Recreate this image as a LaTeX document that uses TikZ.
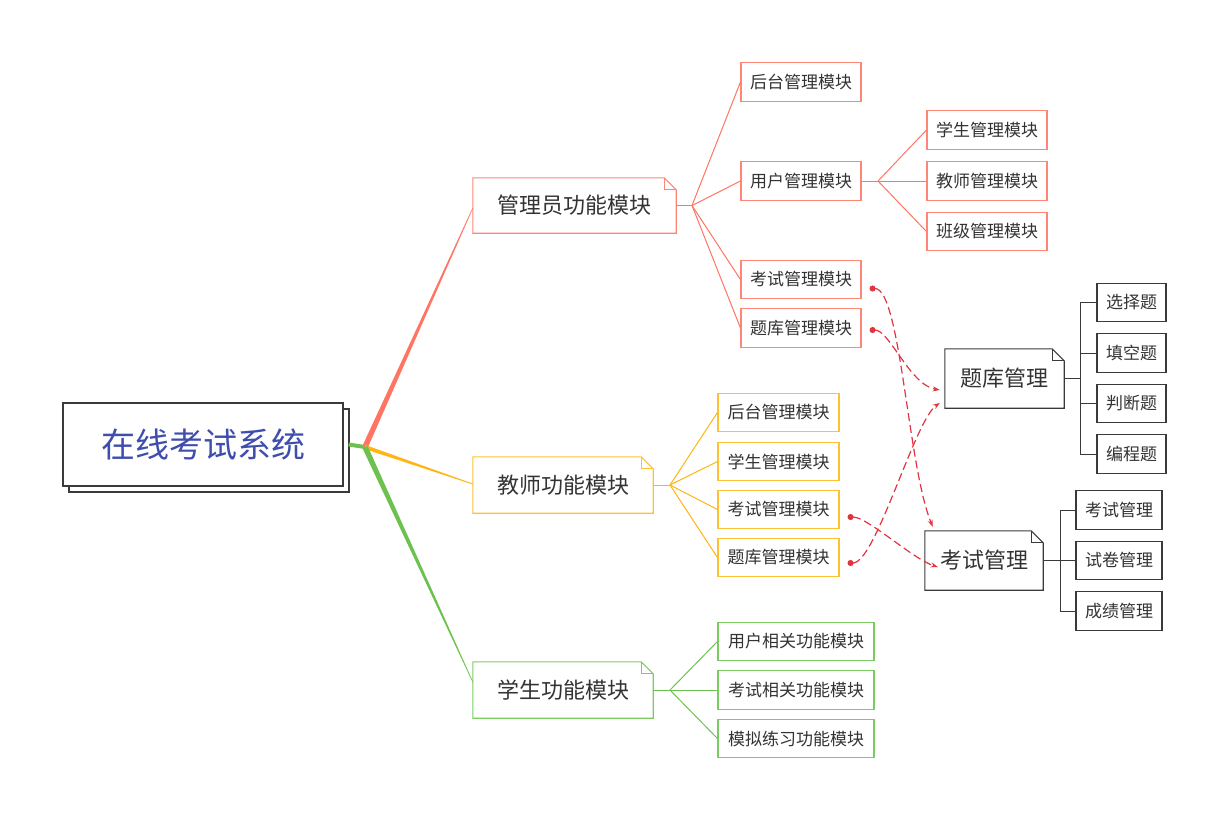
\documentclass[tikz,border=0pt]{standalone}
\usepackage{fontspec}
\newfontfamily\cjk{Noto Sans CJK SC}
\usetikzlibrary{arrows.meta,calc,shadows}
\definecolor{adminc}{HTML}{FF7462}
\definecolor{adminb}{HTML}{FF8576}
\definecolor{teachc}{HTML}{FFB514}
\definecolor{teachb}{HTML}{FFC034}
\definecolor{studc}{HTML}{6DC24F}
\definecolor{studb}{HTML}{7CCB62}
\definecolor{dashc}{HTML}{E0343F}
\definecolor{rootc}{HTML}{3F4DAE}
\definecolor{txt}{HTML}{333333}
\definecolor{blk}{HTML}{3A3A3A}
\newcommand\dogear[2]{%
  \draw[#2, line width=1.1pt] (#1.north west) -- ([xshift=-12pt]#1.north east) -- ([yshift=-12pt]#1.north east) -- (#1.south east) -- (#1.south west) -- cycle;
  \draw[#2, line width=1pt] ([xshift=-12pt]#1.north east) |- ([yshift=-12pt]#1.north east);}
\tikzset{
  box/.style={rectangle, inner sep=0pt, font=\cjk\fontsize{17}{19}\selectfont, text=txt, line width=1.1pt, fill=white, minimum height=38.5pt},
  abox/.style={box, draw=adminb, minimum width=120pt},
  tbox/.style={box, draw=teachb, minimum width=121pt},
  sbox/.style={box, draw=studb, minimum width=156pt},
  kbox/.style={box, draw=blk},
  mainbox/.style={rectangle, inner sep=0pt, font=\cjk\fontsize{22}{24}\selectfont, text=txt},
  fan/.style={line width=1pt},
  dashlink/.style={draw=dashc, line width=1.2pt, dash pattern=on 8pt off 4pt, {Circle[length=6pt,width=6pt]}-{Stealth[length=7pt,width=5pt]}},
}
\begin{document}
\begin{tikzpicture}[x=1pt,y=-1pt]
\useasboundingbox (0,0) rectangle (1228,820);
% root
\node[rectangle, draw=blk, fill=white, line width=1.3pt, minimum width=280pt, minimum height=83pt, inner sep=0pt,
  copy shadow={shadow xshift=6pt, shadow yshift=-6pt},
  font=\cjk\fontsize{34}{36}\selectfont, text=rootc] (root) at (203,444.5) {在线考试系统};
\coordinate (hub) at (365,447);
% main nodes
\node[mainbox, minimum width=203pt, minimum height=55pt] (admin) at (574.5,205.5) {管理员功能模块};
\node[mainbox, minimum width=180pt, minimum height=56pt] (teach) at (563,485) {教师功能模块};
\node[mainbox, minimum width=180pt, minimum height=56pt] (stud) at (563,690) {学生功能模块};
\dogear{admin}{adminb}
\dogear{teach}{teachb}
\dogear{stud}{studb}
% tapered branches
\draw[studc, line width=4pt] ([xshift=5pt]root.east) -- (hub);
\coordinate (aend) at ([yshift=-2.5pt]admin.west);
\coordinate (tend) at ([yshift=1pt]teach.west);
\coordinate (send) at ([yshift=8pt]stud.west);
\fill[adminc] ($(hub)!2.8pt!90:(aend)$) -- ($(aend)!0.3pt!-90:(hub)$) -- ($(aend)!0.3pt!90:(hub)$) -- ($(hub)!2.8pt!-90:(aend)$) -- cycle;
\fill[teachc] ($(hub)!2pt!90:(tend)$) -- ($(tend)!0.4pt!-90:(hub)$) -- ($(tend)!0.4pt!90:(hub)$) -- ($(hub)!2pt!-90:(tend)$) -- cycle;
\fill[studc] ($(hub)!2.8pt!90:(send)$) -- ($(send)!0.3pt!-90:(hub)$) -- ($(send)!0.3pt!90:(hub)$) -- ($(hub)!2.8pt!-90:(send)$) -- cycle;
% admin children
\node[abox] (a1) at (801,82) {后台管理模块};
\node[abox] (a2) at (801,181) {用户管理模块};
\node[abox] (a3) at (801,279.5) {考试管理模块};
\node[abox] (a4) at (801,328) {题库管理模块};
\coordinate (af) at (692,205.5);
\draw[adminc, fan] (admin.east) -- (af);
\foreach \n in {a1,a2,a3,a4} \draw[adminc, fan] (af) -- (\n.west);
% user children
\node[abox] (u1) at (987,130) {学生管理模块};
\node[abox] (u2) at (987,181) {教师管理模块};
\node[abox] (u3) at (987,231.5) {班级管理模块};
\coordinate (uf) at (878,181);
\draw[adminc, fan] (a2.east) -- (uf);
\foreach \n in {u1,u2,u3} \draw[adminc, fan] (uf) -- (\n.west);
% teacher children
\node[tbox] (t1) at (778.5,412.5) {后台管理模块};
\node[tbox] (t2) at (778.5,461.5) {学生管理模块};
\node[tbox] (t3) at (778.5,509.5) {考试管理模块};
\node[tbox] (t4) at (778.5,557.5) {题库管理模块};
\coordinate (tf) at (670,485);
\draw[teachc, fan] (teach.east) -- (tf);
\foreach \n in {t1,t2,t3,t4} \draw[teachc, fan] (tf) -- (\n.west);
% student children
\node[sbox] (s1) at (796,641.5) {用户相关功能模块};
\node[sbox] (s2) at (796,690) {考试相关功能模块};
\node[sbox] (s3) at (796,738.5) {模拟练习功能模块};
\coordinate (sf) at (670,690);
\draw[studc, fan] (stud.east) -- (sf);
\foreach \n in {s1,s2,s3} \draw[studc, fan] (sf) -- (\n.west);
% question bank
\node[mainbox, minimum width=119pt, minimum height=59pt] (Q) at (1004.5,378.5) {题库管理};
\dogear{Q}{blk}
\node[kbox, minimum width=69pt] (q1) at (1131.5,302.5) {选择题};
\node[kbox, minimum width=69pt] (q2) at (1131.5,353) {填空题};
\node[kbox, minimum width=69pt] (q3) at (1131.5,403.5) {判断题};
\node[kbox, minimum width=69pt] (q4) at (1131.5,454) {编程题};
\coordinate (qb) at (1080,378.5);
\draw[blk, fan] (Q.east) -- (qb);
\draw[blk, fan] (qb |- q1.west) -- (qb |- q4.west);
\foreach \n in {q1,q2,q3,q4} \draw[blk, fan] (qb |- \n.west) -- (\n.west);
% exam management
\node[mainbox, minimum width=118pt, minimum height=59pt] (E) at (984,560.5) {考试管理};
\dogear{E}{blk}
\node[kbox, minimum width=86pt] (e1) at (1119,510) {考试管理};
\node[kbox, minimum width=86pt] (e2) at (1119,560.5) {试卷管理};
\node[kbox, minimum width=86pt] (e3) at (1119,611) {成绩管理};
\coordinate (eb) at (1060,560.5);
\draw[blk, fan] (E.east) -- (eb);
\draw[blk, fan] (eb |- e1.west) -- (eb |- e3.west);
\foreach \n in {e1,e2,e3} \draw[blk, fan] (eb |- \n.west) -- (\n.west);
% dashed links
\draw[dashlink] ([shift={(8pt,-9pt)}]a3.east) .. controls +(31,0) and +(-25,-60) .. ([xshift=8pt,yshift=4pt]E.north west);
\draw[dashlink] ([shift={(8pt,-2pt)}]a4.east) .. controls +(20,0) and +(-30,-5) .. ([xshift=-5pt,yshift=-11.5pt]Q.west);
\draw[dashlink] ([shift={(8pt,-7.5pt)}]t3.east) .. controls +(20,0) and +(-25,-8) .. ([xshift=13pt,yshift=-6.5pt]E.west);
\draw[dashlink] ([shift={(8pt,-5.5pt)}]t4.east) .. controls +(28,0) and +(-25,17) .. ([xshift=-5pt,yshift=-24.5pt]Q.west);
\end{tikzpicture}
\end{document}
